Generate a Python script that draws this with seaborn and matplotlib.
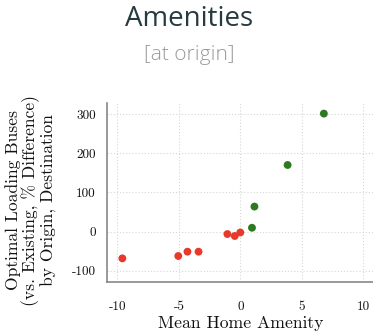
import matplotlib
matplotlib.use("Agg")
import matplotlib.pyplot as plt
import seaborn as sns
import pandas as pd

# Mean home amenity vs. optimal loading of buses (% difference from existing)
amenity = [-9.6, -5.05, -4.3, -3.4, -1.05, -0.45, 0.0, 0.95, 1.15, 3.85, 6.8]
pct_diff = [-68, -62, -51, -51, -6, -11, -2, 10, 64, 170, 301]
group = ["neg", "neg", "neg", "neg", "neg", "neg", "neg", "pos", "pos", "pos", "pos"]

xticks = [-10, -5, 0, 5, 10]
yticks = [-100, 0, 100, 200, 300]

df = pd.DataFrame({"amenity": amenity, "pct": pct_diff, "group": group})
palette = {"neg": "#e8392b", "pos": "#2e7a20"}

sns.set_style("white")
W, H = 373, 332
fig = plt.figure(figsize=(W / 100, H / 100), dpi=100)

left, right, bottom, top = 107.0, 373, 281.7, 103
ax = fig.add_axes([left / W, 1 - bottom / H, (right - left) / W, (bottom - top) / H])

sns.scatterplot(data=df, x="amenity", y="pct", hue="group", palette=palette,
                s=32, linewidth=0, legend=False, ax=ax, zorder=3)

ax.set_xlim(-10.85, 10.8)
ax.set_ylim(-127.5, 328)
ax.set_xticks(xticks)
ax.set_yticks(yticks)
serif = {"family": "cmr10", "size": 9.5}
ax.set_xticklabels([str(v) for v in xticks], fontdict=serif)
ax.set_yticklabels([str(v) for v in yticks], fontdict=serif)
ax.set_xlabel("")
ax.set_ylabel("")

ax.grid(True, linestyle=(0, (1, 1.8)), color="#d6d6d6", linewidth=0.8)
for side in ["top", "right"]:
    ax.spines[side].set_visible(False)
for side in ["left", "bottom"]:
    ax.spines[side].set_color("#888888")
    ax.spines[side].set_linewidth(1.2)
ax.tick_params(axis="both", which="both", direction="out", length=4.5, width=1,
               color="#888888", labelcolor="#111111")
ax.tick_params(axis="x", pad=9.5)
ax.tick_params(axis="y", pad=3.5)

fig.text(189 / W, 1 - 19 / H, "Amenities", ha="center", va="center",
         fontsize=20, family="Open Sans", weight="medium", color="#263b40")
fig.text(189 / W, 1 - 55 / H, "[at origin]", ha="center", va="center",
         fontsize=15, family="Open Sans", weight="light", color="#9a9a9a")

fig.text(241 / W, 1 - 328 / H, "Mean Home Amenity", ha="center", va="baseline",
         fontsize=12.7, family="cmr10", color="#111111")
fig.text(31 / W, 1 - 200 / H,
         "Optimal Loading Buses\n(vs. Existing, % Difference)\nby Origin, Destination",
         ha="center", va="center", rotation=90, fontsize=12.6, family="cmr10",
         linespacing=1.02, color="#111111")

fig.savefig("out.png", dpi=100)
